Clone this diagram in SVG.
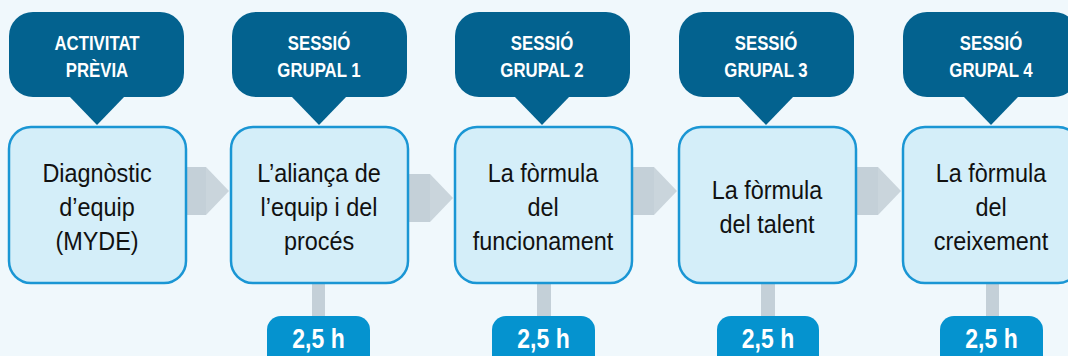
<svg xmlns="http://www.w3.org/2000/svg" width="1068" height="356" viewBox="0 0 1068 356">
<style>
.hdr{fill:#03628f}
.box{fill:#d4eef9;stroke:#1a96d4;stroke-width:2.5}
.gray{fill:#c4d0d8}
.gray2{fill:#cad5dc}
.badge{fill:#0593cf}
.ht{font-family:"Liberation Sans",Arial,sans-serif;font-weight:bold;font-size:20px;fill:#fff;text-anchor:middle}
.mt{font-family:"Liberation Sans",Arial,sans-serif;font-size:26px;fill:#111;text-anchor:middle}
.bt{font-family:"Liberation Sans",Arial,sans-serif;font-weight:bold;font-size:28px;fill:#fff;text-anchor:middle}
</style>
<rect width="1068" height="356" fill="#f0f8fc"/>
<g id="connectors">
<rect class="gray" x="186" y="167" width="20" height="48"/><polygon class="gray2" points="206,167 229,191 206,215"/>
<rect class="gray" x="408" y="174" width="22" height="48"/><polygon class="gray2" points="430,174 453,198 430,222"/>
<rect class="gray" x="632" y="167" width="22" height="48"/><polygon class="gray2" points="654,167 677,191 654,215"/>
<rect class="gray" x="856" y="167" width="22" height="48"/><polygon class="gray2" points="878,167 901,191 878,215"/>
<rect class="gray" x="312" y="283" width="13" height="34"/>
<rect class="gray" x="537" y="283" width="14" height="34"/>
<rect class="gray" x="761" y="283" width="14" height="34"/>
<rect class="gray" x="986" y="283" width="13" height="34"/>
</g>
<g id="node1">
<rect class="hdr" x="9" y="12" width="175" height="85" rx="24"/>
<polygon class="hdr" points="69,96 125,96 97,125"/>
<g transform="translate(97 0) scale(.84 1)"><text class="ht" x="0" y="50">ACTIVITAT</text><text class="ht" x="0" y="77">PRÈVIA</text></g>
<rect class="box" x="9" y="127" width="177" height="156" rx="22"/>
<g transform="translate(97 0) scale(.9 1)"><text class="mt" x="0" y="182">Diagnòstic</text><text class="mt" x="0" y="216">d’equip</text><text class="mt" x="0" y="250">(MYDE)</text></g>
</g>
<g id="node2">
<rect class="hdr" x="232" y="12" width="175" height="85" rx="24"/>
<polygon class="hdr" points="291,96 347,96 319,125"/>
<g transform="translate(319 0) scale(.84 1)"><text class="ht" x="0" y="50">SESSIÓ</text><text class="ht" x="0" y="77">GRUPAL 1</text></g>
<rect class="box" x="231" y="127" width="177" height="156" rx="22"/>
<g transform="translate(319 0) scale(.9 1)"><text class="mt" x="0" y="182">L’aliança de</text><text class="mt" x="0" y="216">l’equip i del</text><text class="mt" x="0" y="250">procés</text></g>
<rect class="badge" x="267" y="316" width="103" height="60" rx="14"/>
<g transform="translate(318.5 0) scale(.82 1)"><text class="bt" x="0" y="348">2,5 h</text></g>
</g>
<g id="node3">
<rect class="hdr" x="455" y="12" width="175" height="85" rx="24"/>
<polygon class="hdr" points="514,96 570,96 542,125"/>
<g transform="translate(542 0) scale(.84 1)"><text class="ht" x="0" y="50">SESSIÓ</text><text class="ht" x="0" y="77">GRUPAL 2</text></g>
<rect class="box" x="455" y="127" width="177" height="156" rx="22"/>
<g transform="translate(543 0) scale(.9 1)"><text class="mt" x="0" y="182">La fòrmula</text><text class="mt" x="0" y="216">del</text><text class="mt" x="0" y="250">funcionament</text></g>
<rect class="badge" x="492" y="316" width="103" height="60" rx="14"/>
<g transform="translate(543.5 0) scale(.82 1)"><text class="bt" x="0" y="348">2,5 h</text></g>
</g>
<g id="node4">
<rect class="hdr" x="679" y="12" width="175" height="85" rx="24"/>
<polygon class="hdr" points="738,96 794,96 766,125"/>
<g transform="translate(766 0) scale(.84 1)"><text class="ht" x="0" y="50">SESSIÓ</text><text class="ht" x="0" y="77">GRUPAL 3</text></g>
<rect class="box" x="679" y="127" width="177" height="156" rx="22"/>
<g transform="translate(767 0) scale(.9 1)"><text class="mt" x="0" y="199">La fòrmula</text><text class="mt" x="0" y="233">del talent</text></g>
<rect class="badge" x="717" y="316" width="102" height="60" rx="14"/>
<g transform="translate(768 0) scale(.82 1)"><text class="bt" x="0" y="348">2,5 h</text></g>
</g>
<g id="node5">
<rect class="hdr" x="903" y="12" width="175" height="85" rx="24"/>
<polygon class="hdr" points="963,96 1019,96 991,125"/>
<g transform="translate(991 0) scale(.84 1)"><text class="ht" x="0" y="50">SESSIÓ</text><text class="ht" x="0" y="77">GRUPAL 4</text></g>
<rect class="box" x="903" y="127" width="177" height="156" rx="22"/>
<g transform="translate(991 0) scale(.9 1)"><text class="mt" x="0" y="182">La fòrmula</text><text class="mt" x="0" y="216">del</text><text class="mt" x="0" y="250">creixement</text></g>
<rect class="badge" x="940" y="316" width="103" height="60" rx="14"/>
<g transform="translate(991.5 0) scale(.82 1)"><text class="bt" x="0" y="348">2,5 h</text></g>
</g>
</svg>
